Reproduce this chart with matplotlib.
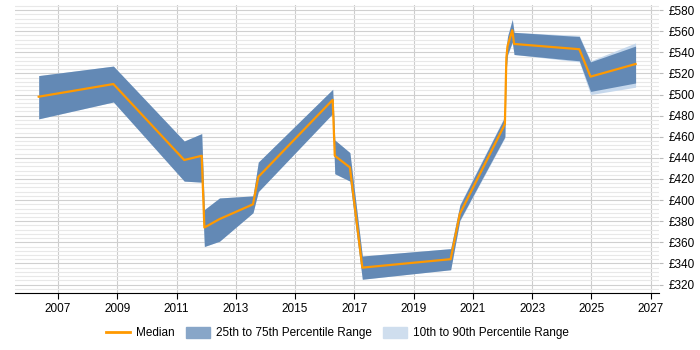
"""Median rate with percentile bands, 2006-2026."""
import matplotlib

matplotlib.use("Agg")
import matplotlib.pyplot as plt
from matplotlib.patches import Patch
from matplotlib.lines import Line2D
from matplotlib.ticker import MultipleLocator, FuncFormatter

plt.rcParams["font.family"] = ["Liberation Sans", "DejaVu Sans"]

# data
years = [2006.35, 2008.87, 2011.26, 2011.85, 2011.94, 2012.45, 2013.58, 2013.76,
         2016.27, 2016.34, 2016.85, 2017.27, 2020.25, 2020.56, 2022.08, 2022.13,
         2022.17, 2022.33, 2022.39, 2024.59, 2024.97, 2026.49]
median = [498, 510, 438, 442, 374, 382, 396, 422, 495, 442, 431, 336, 344, 387,
          472, 535, 546, 561, 548, 543, 517, 529]
p75 = [518, 527, 456, 463, 391, 402, 404, 436, 505, 457, 445, 347, 354, 395,
       479, 545, 555, 571, 559, 555, 531, 546]
p25 = [477, 493, 418, 417, 356, 361, 388, 408, 482, 425, 418, 325, 334, 381,
       460, 525, 538, 550, 538, 532, 503, 511]
p90 = [518, 527, 456, 463, 391, 402, 404, 436, 505, 457, 445, 347, 354, 396,
       480, 546, 556, 572, 559, 556, 532, 549]
p10 = [477, 493, 418, 417, 356, 361, 388, 408, 482, 425, 418, 325, 334, 380,
       459, 524, 537, 549, 538, 531, 500, 507]
year_ticks = list(range(2007, 2028, 2))

fig = plt.figure(figsize=(7, 3.5), dpi=100)
ax = fig.add_axes([0.021, 0.163, 0.92, 0.823])

ax.fill_between(years, p10, p90, color="#c6d8ec", lw=0)
ax.fill_between(years, p25, p75, color="#4a76a8", alpha=0.8, lw=0)
ax.plot(years, median, color="#ff9900", lw=1.6)

ax.set_xlim(2005.54, 2027.27)
ax.set_xticks(year_ticks)
ax.yaxis.set_major_locator(MultipleLocator(20))
ax.yaxis.set_minor_locator(MultipleLocator(4))
ax.yaxis.set_major_formatter(FuncFormatter(lambda v, _: f"£{v:.0f}"))
ax.yaxis.tick_right()
ax.set_ylim(312, 585)

ax.grid(axis="x", color="#cccccc", lw=0.8)
ax.grid(axis="y", which="major", color="#d0d0d0", lw=0.8)
ax.grid(axis="y", which="minor", color="#e8e8e8", lw=0.8)
ax.set_axisbelow(True)

for s in ("top", "left", "right"):
    ax.spines[s].set_visible(False)
ax.spines["bottom"].set_color("black")
ax.tick_params(axis="x", length=4, color="black", labelsize=8.5, pad=3)
ax.tick_params(axis="y", which="major", length=3, color="#bbbbbb", labelsize=8.5, pad=4)
ax.tick_params(axis="y", which="minor", length=0)

handles = [
    Line2D([], [], color="#ff9900", lw=2),
    Patch(color="#88a6c8"),
    Patch(color="#cfdeee"),
]
labels = ["Median", "25th to 75th Percentile Range", "10th to 90th Percentile Range"]
fig.legend(handles, labels, loc="lower center", bbox_to_anchor=(0.482, 0.0), ncol=3,
           frameon=False, fontsize=8.5, handlelength=2.0, handleheight=1.1,
           columnspacing=1.0, handletextpad=0.5)

fig.savefig("out.png", dpi=100)
